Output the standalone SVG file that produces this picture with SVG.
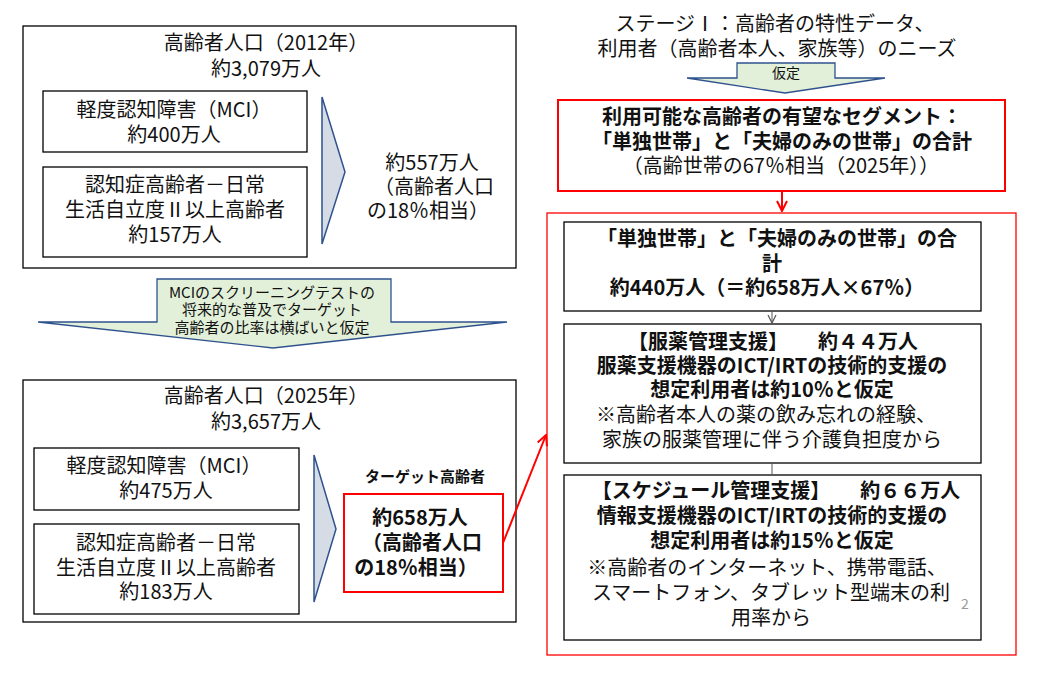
<svg xmlns="http://www.w3.org/2000/svg" width="1040" height="676" viewBox="0 0 1040 676">
<defs>
<style>
text{font-family:"Noto Sans CJK JP","Liberation Sans",sans-serif;fill:#111;text-anchor:middle;font-size:20px}
.b{font-weight:bold}
.s{font-size:15px}
.box{fill:#fff;stroke:#000;stroke-width:1.3}
.red{fill:#fff;stroke:#f00;stroke-width:2}
.redthin{fill:none;stroke:#f00;stroke-width:1.3}
.chev{fill:#D6DCE5;stroke:#2F528F;stroke-width:1.5}
.darr{fill:#E2F0D9;stroke:#2F528F;stroke-width:1.3}
</style>
<marker id="mr" viewBox="0 0 12 12" refX="11" refY="6" markerWidth="12" markerHeight="12" markerUnits="userSpaceOnUse" orient="auto">
<path d="M1,1 L11,6 L1,11" fill="none" stroke="#f00" stroke-width="2"/>
</marker>
<marker id="mg" viewBox="0 0 10 10" refX="9" refY="5" markerWidth="10" markerHeight="10" markerUnits="userSpaceOnUse" orient="auto">
<path d="M1,1 L9,5 L1,9" fill="none" stroke="#555" stroke-width="1.2"/>
</marker>
</defs>
<rect width="1040" height="676" fill="#fff"/>

<g id="frame2012">
<rect class="box" x="23" y="26" width="493" height="242"/>
<text x="266" y="50">高齢者人口（2012年）</text>
<text x="266" y="76">約3,079万人</text>
</g>
<g id="mci2012">
<rect class="box" x="43" y="91" width="264" height="61"/>
<text x="174" y="117">軽度認知障害（MCI）</text>
<text x="174" y="142">約400万人</text>
</g>
<g id="dementia2012">
<rect class="box" x="43" y="167" width="264" height="90"/>
<text x="175" y="192">認知症高齢者－日常</text>
<text x="175" y="217">生活自立度Ⅱ以上高齢者</text>
<text x="175" y="242">約157万人</text>
</g>
<g id="chev2012">
<polygon class="chev" points="322,97 345,172 322,244"/>
</g>
<g id="total2012">
<text x="432" y="170">約557万人</text>
<text x="434" y="194">（高齢者人口</text>
<text x="428" y="218">の18％相当）</text>
</g>

<g id="assumptionArrow">
<polygon class="darr" points="157,279 391,279 391,322 507,322 273,348 38,322 157,322"/>
<text class="s" x="272" y="298">MCIのスクリーニングテストの</text>
<text class="s" x="272" y="315">将来的な普及でターゲット</text>
<text class="s" x="272" y="333">高齢者の比率は横ばいと仮定</text>
</g>

<g id="frame2025">
<rect class="box" x="23" y="380" width="493" height="242"/>
<text x="266" y="403">高齢者人口（2025年）</text>
<text x="266" y="429">約3,657万人</text>
</g>
<g id="mci2025">
<rect class="box" x="34" y="448" width="265" height="62"/>
<text x="164" y="473">軽度認知障害（MCI）</text>
<text x="166" y="498">約475万人</text>
</g>
<g id="dementia2025">
<rect class="box" x="34" y="524" width="265" height="90"/>
<text x="166" y="550">認知症高齢者－日常</text>
<text x="166" y="575">生活自立度Ⅱ以上高齢者</text>
<text x="166" y="599">約183万人</text>
</g>
<g id="chev2025">
<polygon class="chev" points="314,455 336,529 314,602"/>
</g>
<g id="target">
<text class="b s" x="425" y="482">ターゲット高齢者</text>
<rect class="red" x="344" y="494" width="159" height="98"/>
<text class="b" x="420" y="525">約658万人</text>
<text class="b" x="422" y="550">（高齢者人口</text>
<text class="b" x="416" y="575">の18％相当）</text>
</g>

<g id="stage1">
<text x="775" y="31">ステージⅠ：高齢者の特性データ、</text>
<text x="777" y="56">利用者（高齢者本人、家族等）のニーズ</text>
</g>
<g id="assumeArrow">
<polygon class="darr" points="737,63 835,63 835,78 885,78 785,93 687,78 737,78"/>
<text x="786" y="78" style="font-size:14px">仮定</text>
</g>
<g id="segment">
<rect class="red" x="558" y="100" width="447" height="91"/>
<text class="b" x="782" y="124">利用可能な高齢者の有望なセグメント：</text>
<text class="b" x="782" y="149">「単独世帯」と「夫婦のみの世帯」の合計</text>
<text x="781" y="173">（高齢世帯の67％相当（2025年））</text>
</g>

<g id="outerFrame">
<rect class="redthin" x="547" y="213" width="469" height="442"/>
</g>
<g id="households">
<rect class="box" x="564" y="222" width="417" height="89"/>
<text class="b" x="777" y="246">「単独世帯」と「夫婦のみの世帯」の合</text>
<text class="b" x="772" y="271">計</text>
<text class="b" x="767" y="295">約440万人（＝約658万人×67％）</text>
</g>
<g id="medication">
<rect class="box" x="564" y="324" width="417" height="139"/>
<text class="b" x="773" y="349">【服薬管理支援】　　約４４万人</text>
<text class="b" x="772" y="373">服薬支援機器のICT/IRTの技術的支援の</text>
<text class="b" x="772" y="397">想定利用者は約10％と仮定</text>
<text x="766" y="422">※高齢者本人の薬の飲み忘れの経験、</text>
<text x="772" y="447">家族の服薬管理に伴う介護負担度から</text>
</g>
<g id="schedule">
<rect class="box" x="564" y="475" width="417" height="165"/>
<text class="b" x="776" y="498">【スケジュール管理支援】　　約６６万人</text>
<text class="b" x="772" y="523">情報支援機器のICT/IRTの技術的支援の</text>
<text class="b" x="772" y="548">想定利用者は約15％と仮定</text>
<text x="767" y="575">※高齢者のインターネット、携帯電話、</text>
<text x="771" y="600">スマートフォン、タブレット型端末の利</text>
<text x="771" y="625">用率から</text>
</g>
<g id="pagenum">
<text x="965" y="609" style="font-size:14px;fill:#999">2</text>
</g>

<g id="connectors">
<line x1="503" y1="543" x2="546" y2="435" stroke="#f00" stroke-width="2" marker-end="url(#mr)"/>
<line x1="782" y1="191" x2="782" y2="211" stroke="#f00" stroke-width="2" marker-end="url(#mr)"/>
<line x1="772" y1="311" x2="772" y2="323" stroke="#555" stroke-width="1" marker-end="url(#mg)"/>
<line x1="772" y1="463" x2="772" y2="475" stroke="#555" stroke-width="1"/>
</g>
</svg>
